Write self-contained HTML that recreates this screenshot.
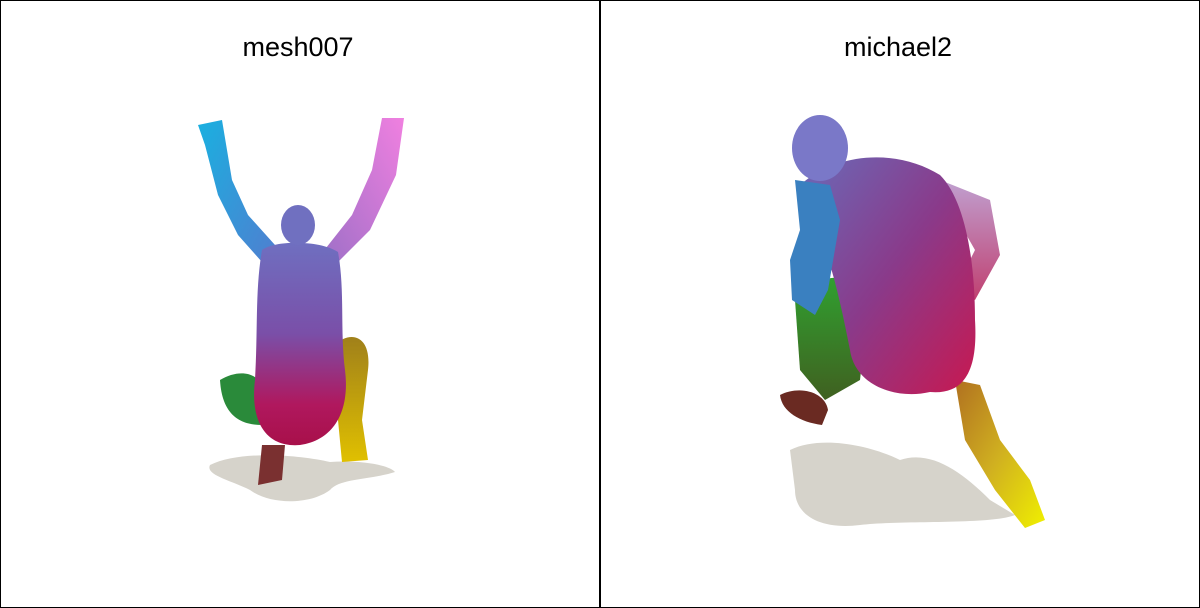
<!DOCTYPE html>
<html><head><meta charset="utf-8"><style>
html,body{margin:0;padding:0;background:#fff}
#wrap{width:1200px;height:608px;position:relative;overflow:hidden}
</style></head><body>
<div id="wrap">
<svg width="1200" height="608" viewBox="0 0 1200 608" xmlns="http://www.w3.org/2000/svg">
<defs>
<linearGradient id="torsoL" x1="0" y1="0" x2="0" y2="1">
<stop offset="0" stop-color="#6f6fc0"/><stop offset="0.45" stop-color="#7a4fa8"/><stop offset="0.8" stop-color="#b0185e"/><stop offset="1" stop-color="#a8104a"/></linearGradient>
<linearGradient id="armL" x1="0" y1="0" x2="1" y2="1">
<stop offset="0" stop-color="#1ab0e0"/><stop offset="1" stop-color="#4f7fd0"/></linearGradient>
<linearGradient id="armR" x1="1" y1="0" x2="0" y2="1">
<stop offset="0" stop-color="#f080e0"/><stop offset="1" stop-color="#a070c8"/></linearGradient>
<linearGradient id="legY" x1="0" y1="0" x2="0" y2="1">
<stop offset="0" stop-color="#a0801a"/><stop offset="1" stop-color="#e0c000"/></linearGradient>
<linearGradient id="backR" x1="0" y1="0" x2="1" y2="1">
<stop offset="0" stop-color="#6a6ab8"/><stop offset="0.5" stop-color="#8a3a8a"/><stop offset="1" stop-color="#c81850"/></linearGradient>
<linearGradient id="legR2" x1="0" y1="0" x2="1" y2="1">
<stop offset="0" stop-color="#b07020"/><stop offset="0.5" stop-color="#d0b020"/><stop offset="1" stop-color="#f0f000"/></linearGradient>
<linearGradient id="armR2" x1="0" y1="0" x2="0" y2="1">
<stop offset="0" stop-color="#c0a0d0"/><stop offset="1" stop-color="#c04070"/></linearGradient>
<linearGradient id="greenR" x1="0" y1="0" x2="0" y2="1">
<stop offset="0" stop-color="#30a030"/><stop offset="1" stop-color="#406020"/></linearGradient>
</defs>
<rect x="0.5" y="0.5" width="1199" height="607" fill="#fff" stroke="#000"/>
<line x1="600" y1="0" x2="600" y2="608" stroke="#000" stroke-width="2"/>
<text x="298" y="56" font-family="Liberation Sans, sans-serif" font-size="27" text-anchor="middle" fill="#000">mesh007</text>
<text x="898" y="56" font-family="Liberation Sans, sans-serif" font-size="27" text-anchor="middle" fill="#000">michael2</text>

<g>
<path d="M210,465 C240,450 300,455 330,462 C360,460 390,465 395,472 C370,480 340,478 330,490 C310,505 270,505 250,490 C230,480 205,475 210,465Z" fill="#d6d3cb"/>
<path d="M198,125 L222,120 L232,180 L248,215 L275,245 L262,262 L238,235 L218,195 L205,145Z" fill="url(#armL)"/>
<path d="M382,118 L404,118 L396,175 L370,230 L338,262 L326,248 L352,215 L372,170Z" fill="url(#armR)"/>
<path d="M220,380 C240,368 262,372 265,395 L262,425 C240,425 222,415 220,380Z" fill="#2a8a3a"/>
<path d="M335,345 C350,330 372,335 368,370 L362,420 L368,460 L342,462 L338,420Z" fill="url(#legY)"/>
<path d="M262,250 C275,240 320,240 338,252 C345,290 340,330 345,370 C350,410 335,440 300,445 C265,448 250,420 255,380 C258,330 255,290 262,250Z" fill="url(#torsoL)"/>
<ellipse cx="298" cy="225" rx="17" ry="20" fill="#7070c0"/>
<path d="M262,445 L285,445 L282,480 L258,485Z" fill="#7a3030"/>
</g>

<g>
<path d="M790,450 C820,435 870,445 900,460 C930,450 960,470 990,500 L1015,515 C990,525 900,520 860,525 C820,530 795,515 795,490Z" fill="#d6d3cb"/>
<path d="M955,380 L980,385 L1000,440 L1030,480 L1045,520 L1025,528 L995,490 L965,440Z" fill="url(#legR2)"/>
<path d="M795,300 C810,275 850,270 870,290 L860,380 L825,400 L800,370Z" fill="url(#greenR)"/>
<path d="M780,395 C800,385 825,392 828,410 L822,425 C800,422 782,412 780,395Z" fill="#6a2a22"/>
<path d="M940,180 L990,200 L1000,255 L975,300 L955,290 L975,250 L955,215Z" fill="url(#armR2)"/>
<path d="M800,185 C840,150 900,150 940,175 C965,200 975,260 975,320 C978,370 965,395 930,392 C895,400 855,385 850,350 C840,300 830,250 800,185Z" fill="url(#backR)"/>
<path d="M795,180 L830,185 L840,220 L828,290 L815,315 L792,300 L790,260 L800,230Z" fill="#3a80c0"/>
<ellipse cx="820" cy="148" rx="28" ry="33" fill="#7a78c8"/>
</g>
</svg>
</div>
</body></html>
